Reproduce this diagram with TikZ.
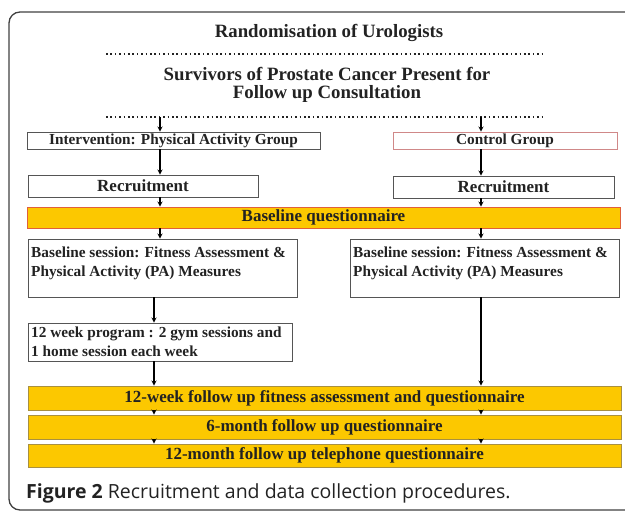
\documentclass[tikz,border=0pt]{standalone}
\usepackage{fontspec}
\setmainfont{Liberation Serif}
\newfontfamily\capfont{Open Sans}
\usetikzlibrary{arrows}

\definecolor{boxgold}{HTML}{FCC800}
\definecolor{goldline}{HTML}{A89040}
\definecolor{redline}{HTML}{E0603A}
\definecolor{pinkline}{HTML}{D08888}
\definecolor{boxline}{HTML}{555555}
\definecolor{inktext}{HTML}{222222}

\begin{document}
\begin{tikzpicture}[>=stealth,x=1pt,y=-1pt,
    plainbox/.style={draw=boxline,line width=0.9pt,fill=white,inner sep=0pt,text=inktext},
    goldbox/.style={draw=goldline,line width=0.9pt,fill=boxgold,inner sep=0pt,text=inktext,
        minimum width=593pt,font=\bfseries\fontsize{17}{19}\selectfont},
    smallfont/.style={font=\bfseries\fontsize{15.3}{19}\selectfont},
    bigfont/.style={font=\bfseries\fontsize{17}{19}\selectfont},
    headfont/.style={font=\bfseries\fontsize{18.8}{18.5}\selectfont,text=inktext},
    dotline/.style={line width=1.5pt,dash pattern=on 1.5pt off 2.9pt,draw=inktext},
    arr/.style={->,line width=1.2pt,draw=black}]

                \useasboundingbox (0,0) rectangle (625,512);
                \clip (0,0) rectangle (625,512);

                \draw[rounded corners=11pt,line width=1.3pt,draw=black!75] (9,12) rectangle (660,510);

                \node[headfont] (rand) at(329,33) {Randomisation of Urologists};
                \coordinate (dotA1) at(106,54);
                \coordinate (dotA2) at(543,54);
                \draw[dotline] (dotA1) -- (dotA2);

                \node[headfont,align=center] (surv) at(327,85) {Survivors of Prostate Cancer Present for\\Follow up Consultation};
                \coordinate (dotB1) at(106,117);
                \coordinate (dotB2) at(543,117);
                \draw[dotline] (dotB1) -- (dotB2);

                \coordinate (colL) at(160,0);
                \coordinate (colLlow) at(154,0);
                \coordinate (colR) at(481,0);

                \node[plainbox,smallfont,minimum width=293pt,minimum height=17pt] (intv) at(173.5,140.5) {Intervention: Physical Activity Group};
                \node[plainbox,smallfont,draw=pinkline,minimum width=224pt,minimum height=17pt] (ctrl) at(505,140.5) {Control Group};

                \node[plainbox,bigfont,minimum width=230pt,minimum height=22pt] (recL) at(143,186) {Recruitment};
                \node[plainbox,bigfont,minimum width=221pt,minimum height=22pt] (recR) at(503.5,187) {Recruitment};

                \node[goldbox,draw=redline,minimum height=21pt] (baseq) at(323.5,217.5) {Baseline questionnaire};

                \node[plainbox,minimum width=269pt,minimum height=58pt] (sesL) at(162.5,268) {};
                \node[plainbox,minimum width=269pt,minimum height=58pt] (sesR) at(484.5,268) {};
                \node[smallfont,text=inktext,align=left,anchor=north west,inner sep=0pt] (sesLtxt) at(31,247) {Baseline session: Fitness Assessment \&\\Physical Activity (PA) Measures};
                \node[smallfont,text=inktext,align=left,anchor=north west,inner sep=0pt] (sesRtxt) at(353,247) {Baseline session: Fitness Assessment \&\\Physical Activity (PA) Measures};

                \node[plainbox,minimum width=264pt,minimum height=38pt] (prog) at(160,342) {};
                \node[smallfont,text=inktext,align=left,anchor=north west,inner sep=0pt] (progtxt) at(31,327) {12 week program : 2 gym sessions and\\1 home session each week};

                \node[goldbox,minimum height=24pt] (fuA) at(324.5,398) {12-week follow up fitness assessment and questionnaire};
                \node[goldbox,minimum height=24pt] (fuB) at(324.5,427) {6-month follow up questionnaire};
                \node[goldbox,minimum height=23pt] (fuC) at(324.5,455.5) {12-month follow up telephone questionnaire};

                \draw[arr] (dotB1 -| colL)--(intv.north -| colL);
                \draw[arr] (dotB1 -| colR)--(ctrl.north -| colR);
                \draw[arr] (intv.south -| colL)--(recL.north -| colL);
                \draw[arr] (ctrl.south -| colR)--(recR.north -| colR);
                \draw[arr] (recL.south -| colL)--(baseq.north -| colL);
                \draw[arr] (recR.south -| colR)--(baseq.north -| colR);
                \draw[arr] (baseq.south -| colL)--(sesL.north -| colL);
                \draw[arr] (baseq.south -| colR)--(sesR.north -| colR);
                \draw[arr] (sesL.south -| colLlow)--(prog.north -| colLlow);
                \draw[arr] (prog.south -| colLlow)--(fuA.north -| colLlow);
                \draw[arr] (sesR.south -| colR)--(fuA.north -| colR);

                \foreach \top/\bot in {fuA/fuB,fuB/fuC}{
                    \draw[arr] (\top.south -| colLlow)--(\bot.north -| colLlow);
                    \draw[arr] (\top.south -| colR)--(\bot.north -| colR);
                }

                \node[anchor=west,inner sep=0pt,text=inktext,font=\capfont\fontsize{19.5}{21}\selectfont] (cap) at(26,493) {\textbf{Figure 2} Recruitment and data collection procedures.};

\end{tikzpicture}
\end{document}
